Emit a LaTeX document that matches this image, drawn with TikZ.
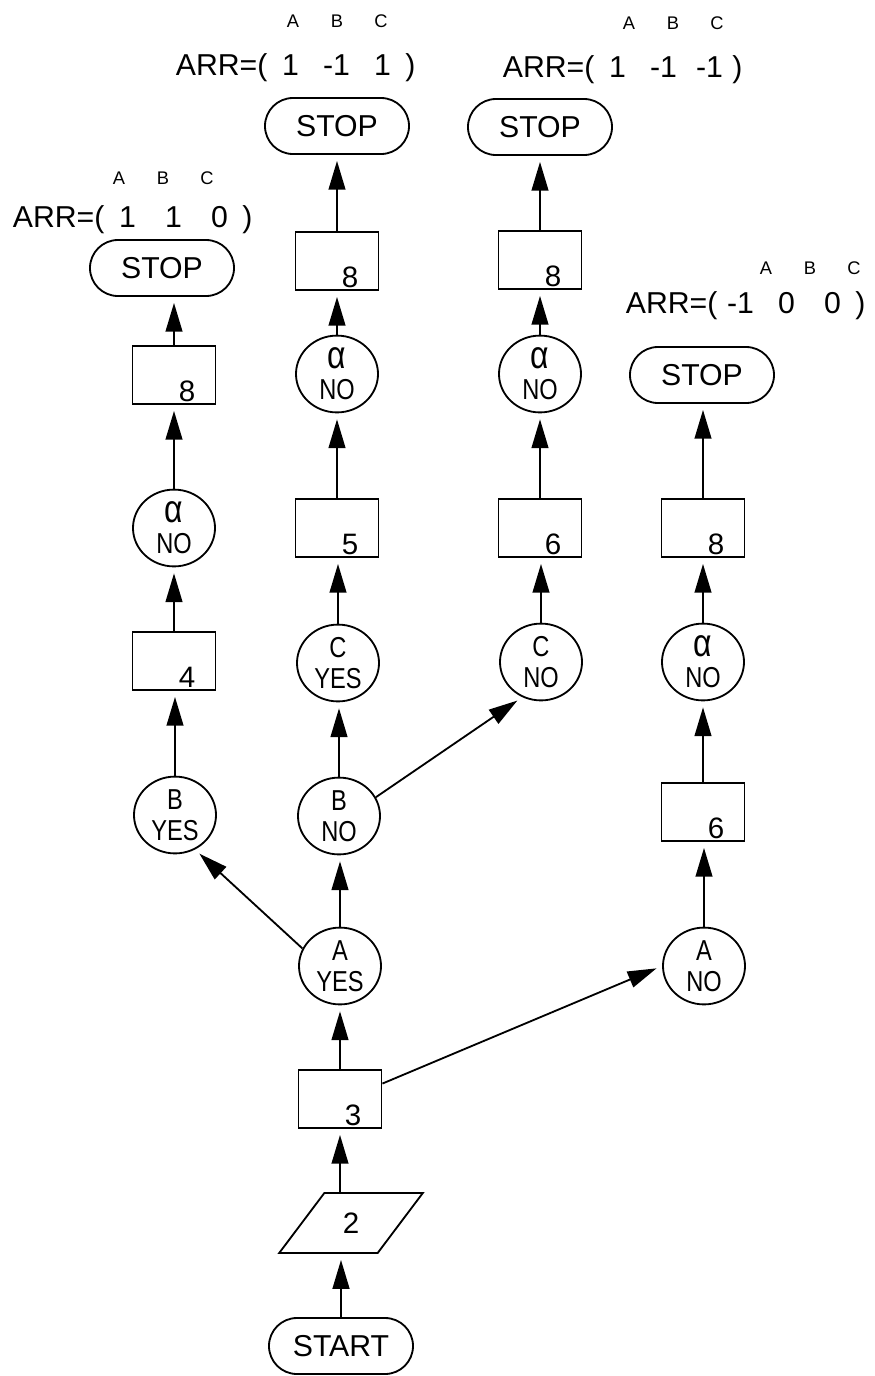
\documentclass[tikz,border=0pt]{standalone}
\usepackage{fontspec}
\setmainfont{Liberation Sans}
\newfontfamily\narrowsans[FakeStretch=0.82]{Liberation Sans}
\usetikzlibrary{shapes.geometric,shapes.misc,arrows.meta}

% one process box with its step number set low and to the right
\newcommand{\procnode}[4]{%
  \node[proc] (#1) at (#2,#3) {};
  \node[num] (#1n) at ([xshift=0.325cm,yshift=-0.65cm]#1.center) {#4};}
% straight upward flow line from one node to the next
\newcommand{\flowup}[2]{\draw[flow] (#1.north) -- (#1.north |- #2.south);}
% header letters and the value slots of an ARR vector
\newcommand{\abcrow}{\makebox[1.1cm]{A}\makebox[1.1cm]{B}\makebox[1.1cm]{C}}
\newcommand{\nb}[1]{\makebox[1.15cm]{#1}}
% alpha drawn at capital height
\newcommand{\alf}{\scalebox{1.35}{α}}

\begin{document}
\begin{tikzpicture}[x=0.025cm,y=-0.025cm,
  line width=1.3pt,
  proc/.style={draw, rectangle, minimum width=2.075cm, minimum height=1.45cm, inner sep=0pt},
  num/.style={font=\fontsize{21}{24}\selectfont, anchor=base, inner sep=0pt},
  test/.style={draw, ellipse, minimum width=2.05cm, minimum height=1.92cm, inner sep=0pt,
    align=center, font=\narrowsans\fontsize{20.5}{22}\selectfont},
  term/.style={draw, rounded rectangle, minimum width=3.6cm, minimum height=1.4cm, inner sep=0pt,
    font=\fontsize{21.5}{24}\selectfont},
  io/.style={draw, trapezium, trapezium left angle=56, trapezium right angle=124,
    trapezium stretches=true, minimum width=3.6cm, minimum height=1.5cm, inner sep=0pt,
    font=\fontsize{21}{24}\selectfont},
  flow/.style={-{Triangle[length=0.72cm,width=0.42cm]}, shorten >=0.15cm},
  abc/.style={anchor=base, inner sep=0pt, font=\fontsize{13}{15}\selectfont},
  arr/.style={anchor=base west, inner sep=0pt, font=\fontsize{21.5}{24}\selectfont}
]
\useasboundingbox (0,0) rectangle (875,1376);

% ---- column 1: A yes, B yes
\node[term] (stopa) at (162,268) {STOP};
\procnode{r8a}{174}{375}{8}
\node[test] (alfa) at (174,528) {\alf\\NO};
\procnode{r4}{174}{661}{4}
\node[test] (byes) at (175,815) {B\\YES};

% ---- column 2: main trunk
\node[term] (stopb) at (337,126) {STOP};
\procnode{r8b}{337}{261}{8}
\node[test] (alfb) at (337,374) {\alf\\NO};
\procnode{r5}{337}{528}{5}
\node[test] (cyes) at (338,663) {C\\YES};
\node[test] (bno) at (339,816) {B\\NO};
\node[test] (ayes) at (340,966) {A\\YES};
\procnode{r3}{340}{1099}{3}
\node[io] (para) at (351,1223) {2};
\node[term] (start) at (341,1346) {START};

% ---- column 3: B no, C no
\node[term] (stopc) at (540,127) {STOP};
\procnode{r8c}{540}{260}{8}
\node[test] (alfc) at (540,374) {\alf\\NO};
\procnode{r6c}{540}{528}{6}
\node[test] (cno) at (541,662) {C\\NO};

% ---- column 4: A no
\node[term] (stopd) at (702,375) {STOP};
\procnode{r8d}{703}{528}{8}
\node[test] (alfd) at (703,662) {\alf\\NO};
\procnode{r6d}{703}{812}{6}
\node[test] (ano) at (704,966) {A\\NO};

% ---- result vectors
\node[abc] (abca) at (163,184) {\abcrow};
\node[arr] (arra) at (12,227) {ARR=(\nb{1}\nb{1}\nb{0})};
\node[abc] (abcb) at (337,27) {\abcrow};
\node[arr] (arrb) at (175,75) {ARR=(\nb{1}\nb{-1}\nb{1})};
\node[abc] (abcc) at (673,29) {\abcrow};
\node[arr] (arrc) at (502,77) {ARR=(\nb{1}\nb{-1}\nb{-1})};
\node[abc] (abcd) at (810,274) {\abcrow};
\node[arr] (arrd) at (625,313) {ARR=(\nb{-1}\nb{0}\nb{0})};

% ---- flow lines
\draw[flow] (start.north) -- (start.north |- para.south);
\draw[flow] (r3.south |- para.north) -- (r3.south);
\flowup{r3}{ayes}
\flowup{ayes}{bno}
\flowup{bno}{cyes}
\flowup{cyes}{r5}
\flowup{r5}{alfb}
\flowup{alfb}{r8b}
\flowup{r8b}{stopb}

\flowup{byes}{r4}
\flowup{r4}{alfa}
\flowup{alfa}{r8a}
\flowup{r8a}{stopa}

\flowup{cno}{r6c}
\flowup{r6c}{alfc}
\flowup{alfc}{r8c}
\flowup{r8c}{stopc}

\flowup{ano}{r6d}
\flowup{r6d}{alfd}
\flowup{alfd}{r8d}
\flowup{r8d}{stopd}

\draw[flow] (ayes.155) -- (byes.-60);
\draw[flow] (bno.27) -- (cno.-118);
\draw[flow] (r3.20) -- (ano.west);
\end{tikzpicture}
\end{document}
